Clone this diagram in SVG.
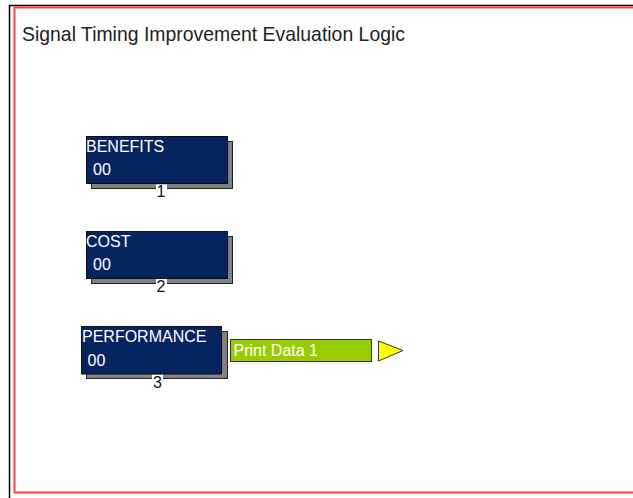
<svg xmlns="http://www.w3.org/2000/svg" width="633" height="498" viewBox="0 0 633 498">
<style>
.title{font-family:"Liberation Sans",Arial,sans-serif;font-size:21px;fill:#222}
.shadow{fill:#808080;stroke:#222;stroke-width:1}
.box{fill:#062460;stroke:#111;stroke-width:1}
.btxt{font-family:"Liberation Sans",Arial,sans-serif;font-size:16px;fill:#fff}
.num{font-family:"Liberation Sans",Arial,sans-serif;font-size:16px;fill:#111;text-anchor:middle}
.numbg{fill:#fff}
.print{fill:#99cc00;stroke:#333;stroke-width:1}
.flag{fill:#ffff00;stroke:#333;stroke-width:1}
</style>
<rect x="0" y="0" width="633" height="498" fill="#fff"/>
<g id="frame">
<line x1="9.5" y1="5" x2="9.5" y2="498" stroke="#000" stroke-width="1.5"/>
<line x1="9" y1="5.5" x2="633" y2="5.5" stroke="#000" stroke-width="1.5"/>
<rect x="14.5" y="7.5" width="640" height="485" fill="none" stroke="#ff4040" stroke-width="2"/>
</g>
<text class="title" x="22" y="41" textLength="383" lengthAdjust="spacingAndGlyphs">Signal Timing Improvement Evaluation Logic</text>
<g id="node-benefits">
<rect class="shadow" x="91.5" y="141.5" width="141" height="47"/>
<rect class="numbg" x="156" y="184.5" width="11" height="15"/>
<rect class="box" x="86.5" y="136.5" width="141" height="47"/>
<text class="btxt" x="86" y="152">BENEFITS</text>
<text class="btxt" x="93" y="175">00</text>
<text class="num" x="161" y="197">1</text>
</g>
<g id="node-cost">
<rect class="shadow" x="91.5" y="236.5" width="141" height="47"/>
<rect class="numbg" x="156" y="278.5" width="11" height="15"/>
<rect class="box" x="86.5" y="231.5" width="141" height="47"/>
<text class="btxt" x="86" y="246.5">COST</text>
<text class="btxt" x="93" y="270">00</text>
<text class="num" x="161" y="291.5">2</text>
</g>
<g id="node-performance">
<rect class="shadow" x="86.5" y="331.5" width="141" height="47"/>
<rect class="numbg" x="152" y="374.5" width="11" height="15"/>
<rect class="box" x="81.5" y="326.5" width="140" height="47.5"/>
<text class="btxt" x="82" y="342">PERFORMANCE</text>
<text class="btxt" x="87.5" y="365.5">00</text>
<text class="num" x="157.5" y="388">3</text>
</g>
<g id="node-print">
<rect class="print" x="230.5" y="339.5" width="141" height="22"/>
<text class="btxt" x="233.5" y="355.5">Print Data 1</text>
</g>
<g id="node-output">
<polygon class="flag" points="378.5,341 403,350.5 378.5,361"/>
</g>
<g id="connectors"></g>
</svg>
